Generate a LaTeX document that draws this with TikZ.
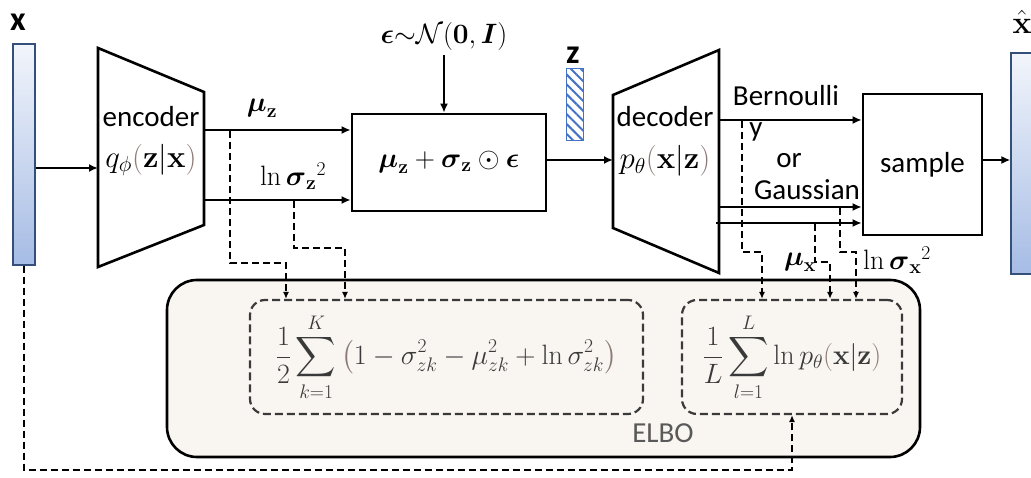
\RequirePackage{fix-cm}
\documentclass[tikz,border=0pt]{standalone}
\usepackage{amsmath,amssymb}
\usepackage[no-math]{fontspec}
\setmainfont{Carlito}
\usetikzlibrary{arrows.meta, positioning, patterns.meta, calc}
\definecolor{barlight}{HTML}{F2F5FB}
\definecolor{barblue}{HTML}{A6BCE5}
\definecolor{barline}{HTML}{34507A}
\definecolor{hatchblue}{HTML}{4472C4}
\definecolor{elbofill}{HTML}{F9F5F1}
\definecolor{dgray}{HTML}{3A3A3A}
\definecolor{paren}{HTML}{8C7A75}
\definecolor{lgray}{HTML}{595959}

\begin{document}
\begin{tikzpicture}[x=1pt, y=-1pt, font=\fontsize{29}{34}\selectfont, >={Latex[length=9pt,width=8pt]},
    line width=1.8pt,
    m/.style={font=\fontsize{28}{34}\selectfont},
    mq/.style={font=\fontsize{31}{36}\selectfont},
    lab/.style={font=\fontsize{34}{40}\selectfont\bfseries},
    trap/.style={draw, line width=2.6pt, line join=miter},
    b/.style={draw, line width=2.6pt, inner sep=0pt},
    vec/.style={draw=barline, line width=1.2pt, top color=barlight, bottom color=barblue, minimum width=22pt, minimum height=221pt, inner sep=0pt},
    inner/.style={draw=dgray, line width=2.2pt, dash pattern=on 8pt off 4pt, rounded corners=15pt, minimum height=114pt, inner sep=0pt, text=dgray, m},
    dsh/.style={line width=2pt, dash pattern=on 7pt off 4pt},
    tip/.style={-{Latex[length=7pt,width=6pt]}}
]
    \useasboundingbox (0,0) rectangle (1031,478);
    % input and output vectors
    \node[vec] (xin) at (24,154.5) {};
    \node[lab] (xlab) at (18,22) {x};
    \node[vec, minimum width=30pt] (xout) at (1026,163.5) {};
    \node[font=\fontsize{32}{38}\selectfont] (xhlab) at (1022,22) {$\hat{\mathbf{x}}$};
    % encoder
    \draw[trap] (98,48) -- (204,92) -- (204,225) -- (98,267) -- cycle;
    \coordinate (encw) at (98,168);
    \coordinate (ence1) at (204,130);
    \coordinate (ence2) at (204,200);
    \node (enclab) at (151,117) {encoder};
    \node[mq] (encq) at (151,160) {$q_\phi\textcolor{paren}{(}\mathbf{z}|\mathbf{x}\textcolor{paren}{)}$};
    % reparameterisation
    \node[b, m, minimum width=194pt, minimum height=97pt] (rep) at (449,162.5) {$\boldsymbol{\mu}_{\mathbf{z}}+\boldsymbol{\sigma}_{\mathbf{z}}\odot\boldsymbol{\epsilon}$};
    \node[m] (eps) at (444,37) {$\boldsymbol{\epsilon}{\sim}\mathcal{N}(\mathbf{0},\boldsymbol{I})$};
    \node[m] (muz) at (262,108) {$\boldsymbol{\mu}_{\mathbf{z}}$};
    \node[m] (lnsz) at (293,176) {$\ln\boldsymbol{\sigma}_{\mathbf{z}}{}^2$};
    % latent
    \node[draw=hatchblue, line width=1pt, pattern={Lines[angle=-45,distance=7pt,line width=2pt]}, pattern color=hatchblue, minimum width=17pt, minimum height=72pt, inner sep=0pt] (zbar) at (574.5,105) {};
    \node[lab] (zlab) at (573,55) {z};
    % decoder
    \draw[trap] (613,95) -- (719,50) -- (719,273) -- (613,228) -- cycle;
    \coordinate (decw) at (613,160);
    \coordinate (dece1) at (719,120);
    \coordinate (dece2) at (719,207);
    \coordinate (dece3) at (716,223);
    \node (declab) at (665,117) {decoder};
    \node[mq] (decp) at (665,161) {$p_\theta\textcolor{paren}{(}\mathbf{x}|\mathbf{z}\textcolor{paren}{)}$};
    \node[b, minimum width=119pt, minimum height=141pt] (samp) at (922.5,164.5) {sample};
    \node (bern) at (786,96) {Bernoulli};
    \node (ylab) at (756,132) {y};
    \node (orlab) at (789,161) {or};
    \node (gaus) at (807,190) {Gaussian};
    \node[m] (mux) at (800,262) {$\boldsymbol{\mu}_{\mathbf{x}}$};
    \node[m] (lnsx) at (897,260) {$\ln\boldsymbol{\sigma}_{\mathbf{x}}{}^2$};
    % ELBO
    \node[draw, line width=2.6pt, fill=elbofill, rounded corners=30pt, minimum width=753pt, minimum height=177pt] (elbo) at (543.5,368.5) {};
    \node[inner, minimum width=393pt] (kl) at (446.5,357) {$\displaystyle\frac{1}{2}\sum_{k=1}^{K}\textcolor{paren}{\bigl(}1-\sigma_{zk}^2-\mu_{zk}^2+\ln\sigma_{zk}^2\textcolor{paren}{\bigr)}$};
    \node[inner, minimum width=220pt] (rec) at (792,357) {$\displaystyle\frac{1}{L}\sum_{l=1}^{L}\ln p_\theta\textcolor{paren}{(}\mathbf{x}|\mathbf{z}\textcolor{paren}{)}$};
    \node[text=lgray] (elbolab) at (663,433) {ELBO};
    % solid connectors
    \draw[->] (xin.east |- encw) -- (encw);
    \draw[->] (ence1) -- (ence1 -| rep.west);
    \draw[->] (ence2) -- (ence2 -| rep.west);
    \draw[->] (eps.south) -- (eps.south |- rep.north);
    \draw[->] (rep.east |- decw) -- (decw);
    \draw[->] (dece1) -- (dece1 -| samp.west);
    \draw[->] (dece2) -- (dece2 -| samp.west);
    \draw[->] (dece3) -- (dece3 -| samp.west);
    \draw[->] (samp.east |- 0,160) -- (xout.west |- 0,160);
    % dashed connectors
    \coordinate (tmu) at (230,131);
    \coordinate (bmu) at (286,263);
    \coordinate (tsz) at (294,201);
    \coordinate (bsz) at (345,248);
    \coordinate (tbe) at (742,121);
    \coordinate (bbe) at (762,252);
    \coordinate (tmx) at (815,224);
    \coordinate (bmx) at (830,262);
    \coordinate (tsx) at (840,208);
    \coordinate (bsx) at (856,252);
    \coordinate (lp) at (792,470);
    \draw[dsh, tip] (tmu) |- (bmu) -- (bmu |- kl.north);
    \draw[dsh, tip] (tsz) |- (bsz) -- (bsz |- kl.north);
    \draw[dsh, tip] (tbe) |- (bbe) -- (bbe |- rec.north);
    \draw[dsh, tip] (tmx) |- (bmx) -- (bmx |- rec.north);
    \draw[dsh, tip] (tsx) |- (bsx) -- (bsx |- rec.north);
    \draw[dsh, tip] (xin.south) |- (lp) -- (rec.south);
\end{tikzpicture}
\end{document}
